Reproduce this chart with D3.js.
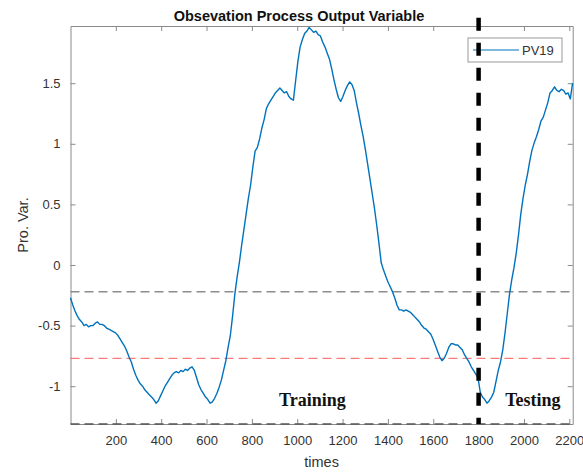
<!DOCTYPE html>
<html>
<head>
<meta charset="utf-8">
<script src="https://cdn.jsdelivr.net/npm/d3@7"></script>
<style>
  body { margin: 0; background: #fff; }
  svg { display: block; font-family: "Liberation Sans", Arial, sans-serif; }
  .axis text { font-size: 13px; fill: #333; }
  .axis path, .axis line { stroke: #8a8a8a; }
</style>
</head>
<body>
<svg id="chart"></svg>
<script>
  // sample spacing of the PV19 series (values read every ~10 time units)
  const timeStart = 0;
  const timeStep = 9.93;
  const pv19 = [
    -0.27, -0.33, -0.38, -0.42, -0.45, -0.47, -0.50, -0.49, -0.51, -0.50,
    -0.50, -0.48, -0.47, -0.49, -0.49, -0.50, -0.52, -0.53, -0.54, -0.55,
    -0.56, -0.58, -0.61, -0.64, -0.67, -0.71, -0.76, -0.80, -0.86, -0.91,
    -0.95, -0.98, -1.00, -1.03, -1.05, -1.07, -1.09, -1.11, -1.14, -1.12,
    -1.08, -1.04, -1.00, -0.97, -0.94, -0.91, -0.89, -0.88, -0.89, -0.87,
    -0.88, -0.86, -0.87, -0.85, -0.84, -0.87, -0.93, -0.99, -1.03, -1.06,
    -1.09, -1.11, -1.14, -1.13, -1.10, -1.06, -1.01, -0.95, -0.87, -0.79,
    -0.68, -0.58, -0.42, -0.24, -0.10, 0.02, 0.16, 0.29, 0.42, 0.55,
    0.66, 0.81, 0.94, 0.97, 1.04, 1.13, 1.20, 1.29, 1.33, 1.36,
    1.39, 1.42, 1.44, 1.46, 1.44, 1.42, 1.43, 1.39, 1.37, 1.36,
    1.52, 1.68, 1.80, 1.86, 1.91, 1.93, 1.96, 1.94, 1.92, 1.93,
    1.90, 1.89, 1.84, 1.80, 1.75, 1.70, 1.62, 1.53, 1.45, 1.38,
    1.35, 1.39, 1.44, 1.48, 1.51, 1.49, 1.44, 1.34, 1.25, 1.15,
    1.06, 0.95, 0.83, 0.71, 0.59, 0.47, 0.33, 0.18, 0.02, -0.04,
    -0.09, -0.14, -0.18, -0.22, -0.27, -0.33, -0.37, -0.37, -0.38, -0.37,
    -0.38, -0.39, -0.41, -0.43, -0.45, -0.47, -0.50, -0.52, -0.53, -0.55,
    -0.57, -0.61, -0.66, -0.71, -0.76, -0.79, -0.77, -0.73, -0.68, -0.65,
    -0.65, -0.66, -0.66, -0.68, -0.70, -0.74, -0.77, -0.80, -0.84, -0.87,
    -0.90, -0.93, -1.05, -1.09, -1.11, -1.14, -1.12, -1.09, -1.05, -0.96,
    -0.87, -0.80, -0.70, -0.56, -0.40, -0.24, -0.12, -0.02, 0.10, 0.25,
    0.42, 0.55, 0.66, 0.75, 0.86, 0.95, 1.01, 1.06, 1.12, 1.19,
    1.22, 1.28, 1.34, 1.42, 1.44, 1.47, 1.44, 1.43, 1.45, 1.44,
    1.41, 1.42, 1.37, 1.50
  ];

  const xDomain = [0, 2215];
  const yDomain = [-1.312, 1.972];
  const xTicks = [200, 400, 600, 800, 1000, 1200, 1400, 1600, 1800, 2000, 2200];
  const yTicks = [-1, -0.5, 0, 0.5, 1, 1.5];

  // threshold lines and train/test split
  const upperLimit = -0.22;
  const lowerLimit = -0.77;
  const bottomLimit = -1.312;
  const splitTime = 1800;
  const splitRange = [-1.312, 2.04];

  const regionLabels = [
    { text: "Training", t: 920, v: -1.163 },
    { text: "Testing", t: 1917, v: -1.163 }
  ];

  const width = 583;
  const height = 473;
  const margin = { top: 26, right: 10.3, bottom: 49, left: 70.5 };

  const svg = d3.select("#chart").attr("width", width).attr("height", height);

  const xscale = d3.scaleLinear().domain(xDomain)
    .range([margin.left, width - margin.right]);
  const yscale = d3.scaleLinear().domain(yDomain)
    .range([height - margin.bottom, margin.top]);

  // axes, ticks pointing inwards like matlab
  svg.append("g").attr("class", "axis")
    .attr("transform", `translate(0,${height - margin.bottom})`)
    .call(d3.axisBottom(xscale).tickValues(xTicks).tickSizeInner(-5).tickSizeOuter(0).tickPadding(12)
      .tickFormat((d) => String(d)));
  svg.append("g").attr("class", "axis")
    .attr("transform", `translate(0,${margin.top})`)
    .call(d3.axisTop(xscale).tickValues(xTicks).tickSizeInner(-5).tickSizeOuter(0).tickFormat(""));
  svg.append("g").attr("class", "axis")
    .attr("transform", `translate(${margin.left},0)`)
    .call(d3.axisLeft(yscale).tickValues(yTicks).tickSizeInner(-5).tickSizeOuter(0).tickPadding(10)
      .tickFormat((d) => String(d)));
  svg.append("g").attr("class", "axis")
    .attr("transform", `translate(${width - margin.right},0)`)
    .call(d3.axisRight(yscale).tickValues(yTicks).tickSizeInner(-5).tickSizeOuter(0).tickFormat(""));
  svg.selectAll(".axis text").attr("font-family", null).attr("font-size", null);

  // horizontal dashed limits
  const hlines = [
    { v: upperLimit, color: "#8c8c8c", width: 1.5 },
    { v: lowerLimit, color: "#ff5a5a", width: 1 },
    { v: bottomLimit, color: "#555", width: 1.5 }
  ];
  svg.append("g").selectAll("line").data(hlines).join("line")
    .attr("x1", xscale(xDomain[0])).attr("x2", xscale(xDomain[1]))
    .attr("y1", (d) => yscale(d.v)).attr("y2", (d) => yscale(d.v))
    .attr("stroke", (d) => d.color)
    .attr("stroke-width", (d) => d.width)
    .attr("stroke-dasharray", "9,5");

  // PV19 series
  const line = d3.line()
    .x((d, i) => xscale(timeStart + i * timeStep))
    .y((d) => yscale(d));
  svg.append("path")
    .datum(pv19)
    .attr("fill", "none")
    .attr("stroke", "#0072BD")
    .attr("stroke-width", 1.4)
    .attr("stroke-linejoin", "round")
    .attr("d", line);

  // legend
  const legend = svg.append("g").attr("transform", "translate(468,38)");
  legend.append("rect").attr("width", 94).attr("height", 24)
    .attr("fill", "#fff").attr("stroke", "#999");
  legend.append("line").attr("x1", 5).attr("x2", 51).attr("y1", 12).attr("y2", 12)
    .attr("stroke", "#0072BD").attr("stroke-width", 1);
  legend.append("text").attr("x", 54).attr("y", 17)
    .attr("font-size", 13).attr("fill", "#333").text("PV19");

  // training / testing split
  svg.append("line")
    .attr("x1", xscale(splitTime)).attr("x2", xscale(splitTime))
    .attr("y1", yscale(splitRange[1])).attr("y2", yscale(splitRange[0]))
    .attr("stroke", "#000").attr("stroke-width", 4.5)
    .attr("stroke-dasharray", "13,12");

  svg.append("g").selectAll("text").data(regionLabels).join("text")
    .attr("x", (d) => xscale(d.t))
    .attr("y", (d) => yscale(d.v))
    .attr("font-family", "'Liberation Serif', 'Times New Roman', serif")
    .attr("font-weight", "bold")
    .attr("font-size", 18)
    .attr("fill", "#111")
    .text((d) => d.text);

  // titles
  svg.append("text").attr("x", 299).attr("y", 21)
    .attr("text-anchor", "middle").attr("font-weight", "bold").attr("font-size", 14.5)
    .attr("fill", "#111").text("Obsevation Process Output Variable");
  svg.append("text").attr("x", (margin.left + width - margin.right) / 2).attr("y", 467)
    .attr("text-anchor", "middle").attr("font-size", 14.5).attr("fill", "#333").text("times");
  svg.append("text").attr("transform", "translate(28,225) rotate(-90)")
    .attr("text-anchor", "middle").attr("font-size", 14.5).attr("fill", "#333").text("Pro. Var.");
</script>
</body>
</html>
